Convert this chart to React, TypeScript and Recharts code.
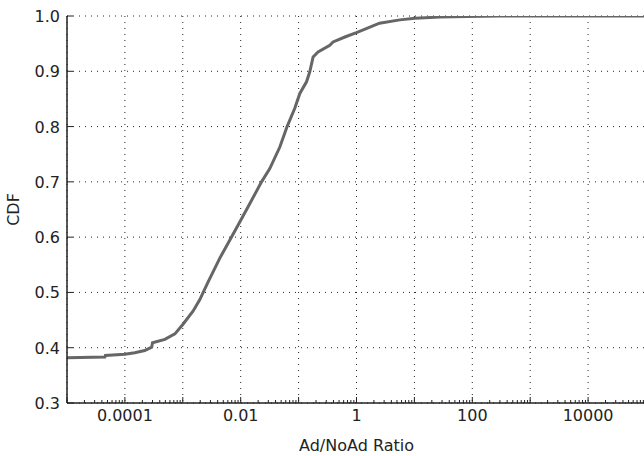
import { LineChart, Line, XAxis, YAxis, CartesianGrid } from "recharts";

// CDF of the Ad/NoAd ratio
const ratioValues = [
  1e-5, 4.5e-5, 4.6e-5, 1e-4, 1.48e-4, 2.2e-4, 2.9e-4, 3.0e-4, 4.9e-4, 7.3e-4,
  1.0e-3, 1.5e-3, 1.97e-3, 2.25e-3, 2.74e-3, 4.36e-3, 6.5e-3, 9.7e-3, 0.0144,
  0.0229, 0.0318, 0.0474, 0.0633, 0.0859, 0.105, 0.137, 0.156, 0.178, 0.217,
  0.346, 0.394, 0.63, 1, 2.5, 5.6, 10.2, 27.5, 80, 300, 1e5,
];
const cdfValues = [
  0.382, 0.383, 0.386, 0.388, 0.391, 0.395, 0.401, 0.409, 0.415, 0.425,
  0.442, 0.466, 0.487, 0.5, 0.519, 0.562, 0.595, 0.628, 0.661,
  0.7, 0.724, 0.763, 0.8, 0.833, 0.86, 0.881, 0.899, 0.926, 0.935,
  0.947, 0.953, 0.962, 0.97, 0.987, 0.993, 0.996, 0.998, 0.999, 1.0, 1.0,
];

const majorTicks = [1e-5, 1e-4, 1e-3, 1e-2, 1e-1, 1, 10, 100, 1e3, 1e4, 1e5];
const labeledTicks = [1e-4, 1e-2, 1, 100, 1e4];
const xTickLabels = ["0.0001", "0.01", "1", "100", "10000"];
const yTicks = [0.3, 0.4, 0.5, 0.6, 0.7, 0.8, 0.9, 1.0];

const minorTicks = majorTicks.slice(0, -1).flatMap((m) => [2, 3, 4, 5, 6, 7, 8, 9].map((k) => k * m));
const allXTicks = [...majorTicks, ...minorTicks].sort((a, b) => a - b);

const data = ratioValues.map((ratio, i) => ({ ratio, cdf: cdfValues[i] }));

const INK = "#222";
const FONT = "DejaVu Sans";
const X_DOMAIN: [number, number] = [1e-5, 1e5];

const sameTick = (a: number, b: number) => Math.abs(Math.log10(a) - Math.log10(b)) < 1e-6;
const isMajor = (v: number) => majorTicks.some((t) => sameTick(t, v));

function BottomTick(props: any) {
  const { x, y, payload } = props;
  const v = payload.value;
  const idx = labeledTicks.findIndex((t) => sameTick(t, v));
  return (
    <g>
      <line x1={x} x2={x} y1={y} y2={y - (isMajor(v) ? 6 : 3)} stroke={INK} strokeWidth={1} />
      {idx >= 0 && (
        <text x={x} y={y + 18} textAnchor="middle" fontSize={16} fontFamily={FONT} fill={INK}>
          {xTickLabels[idx]}
        </text>
      )}
    </g>
  );
}

function TopTick(props: any) {
  const { x, y, payload } = props;
  return <line x1={x} x2={x} y1={y} y2={y + (isMajor(payload.value) ? 6 : 3)} stroke={INK} strokeWidth={1} />;
}

function LeftTick(props: any) {
  const { x, y, payload } = props;
  return (
    <g>
      <line x1={x} x2={x + 6} y1={y} y2={y} stroke={INK} strokeWidth={1} />
      <text x={x - 7} y={y + 6} textAnchor="end" fontSize={16} fontFamily={FONT} fill={INK}>
        {payload.value.toFixed(1)}
      </text>
    </g>
  );
}

function RightTick(props: any) {
  const { x, y } = props;
  return <line x1={x} x2={x - 6} y1={y} y2={y} stroke={INK} strokeWidth={1} />;
}

export default function App() {
  return (
    <div style={{ position: "fixed", left: 0, top: 0, width: 644, height: 456, overflow: "hidden", background: "#fff" }}>
      <LineChart width={668} height={456} data={data} margin={{ top: 16, right: 22, bottom: 0, left: 0 }}>
        <CartesianGrid
          stroke={INK}
          strokeWidth={1}
          strokeDasharray="1 5"
          verticalCoordinatesGenerator={({ xAxis, offset }: any) =>
            majorTicks.map((t) =>
              xAxis && typeof xAxis.scale === "function"
                ? xAxis.scale(t)
                : offset.left + (offset.width * (Math.log10(t) + 5)) / 10
            )
          }
        />
        <XAxis
          dataKey="ratio"
          type="number"
          scale="log"
          domain={X_DOMAIN}
          allowDataOverflow
          ticks={allXTicks}
          interval={0}
          tickSize={0}
          tickMargin={0}
          tick={<BottomTick />}
          height={53}
          axisLine={{ stroke: INK, strokeWidth: 1.5 }}
          label={{
            content: ({ viewBox }: any) => (
              <text
                x={viewBox.x + viewBox.width / 2}
                y={viewBox.y + 48}
                textAnchor="middle"
                fontSize={16}
                fontFamily={FONT}
                fill={INK}
              >
                Ad/NoAd Ratio
              </text>
            ),
          }}
        />
        <XAxis
          xAxisId="top"
          orientation="top"
          dataKey="ratio"
          type="number"
          scale="log"
          domain={X_DOMAIN}
          allowDataOverflow
          ticks={allXTicks}
          interval={0}
          tickSize={0}
          tickMargin={0}
          tick={<TopTick />}
          height={0}
          axisLine={{ stroke: INK, strokeWidth: 1.5 }}
        />
        <YAxis
          type="number"
          domain={[0.3, 1]}
          allowDataOverflow
          ticks={yTicks}
          interval={0}
          tickSize={0}
          tickMargin={0}
          tick={<LeftTick />}
          width={67}
          axisLine={{ stroke: INK, strokeWidth: 1.5 }}
          label={{
            content: ({ viewBox }: any) => {
              const cx = viewBox.x + 13;
              const cy = viewBox.y + viewBox.height / 2;
              return (
                <text
                  x={cx}
                  y={cy}
                  transform={`rotate(-90 ${cx} ${cy})`}
                  textAnchor="middle"
                  dominantBaseline="central"
                  fontSize={16}
                  fontFamily={FONT}
                  fill={INK}
                >
                  CDF
                </text>
              );
            },
          }}
        />
        <YAxis
          yAxisId="right"
          orientation="right"
          type="number"
          domain={[0.3, 1]}
          allowDataOverflow
          ticks={yTicks}
          interval={0}
          tickSize={0}
          tickMargin={0}
          tick={<RightTick />}
          width={0}
          axisLine={{ stroke: INK, strokeWidth: 1.5 }}
        />
        <Line
          dataKey="cdf"
          type="linear"
          stroke="#666"
          strokeWidth={3}
          dot={false}
          isAnimationActive={false}
        />
      </LineChart>
    </div>
  );
}
